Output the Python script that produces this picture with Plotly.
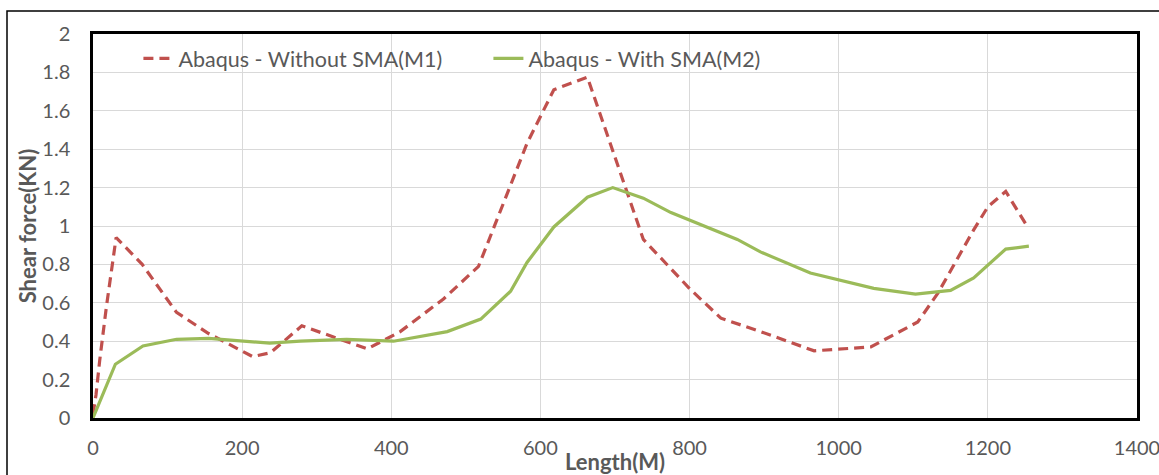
import plotly.graph_objects as go

# Data
m1_length = [0, 4, 9, 18, 31, 66, 112, 155, 214, 238, 280, 325, 368, 412, 470, 517, 582, 618, 663, 738, 801, 842, 895, 967, 1043, 1106, 1133, 1181, 1200, 1224, 1254]
m1_shear = [0.02, 0.12, 0.30, 0.58, 0.94, 0.80, 0.55, 0.44, 0.32, 0.34, 0.48, 0.42, 0.36, 0.45, 0.62, 0.79, 1.43, 1.71, 1.775, 0.93, 0.67, 0.52, 0.45, 0.35, 0.37, 0.50, 0.65, 0.98, 1.10, 1.18, 0.99]

m2_length = [0, 30, 67, 112, 155, 237, 278, 340, 403, 475, 520, 560, 582, 618, 663, 697, 738, 775, 864, 895, 962, 1047, 1103, 1150, 1181, 1204, 1224, 1255]
m2_shear = [0.0, 0.28, 0.375, 0.41, 0.415, 0.39, 0.40, 0.41, 0.40, 0.45, 0.515, 0.66, 0.81, 0.995, 1.15, 1.20, 1.145, 1.07, 0.93, 0.865, 0.755, 0.675, 0.645, 0.665, 0.73, 0.81, 0.88, 0.895]

m1_name = "Abaqus - Without SMA(M1)"
m2_name = "Abaqus - With SMA(M2)"

FONT = "Lato"
GRAY = "#595959"

fig = go.Figure()
fig.add_trace(go.Scatter(x=m1_length, y=m1_shear, mode="lines", name=m1_name,
                         line=dict(color="#C0504D", width=3.2, dash="10px,6px")))
fig.add_trace(go.Scatter(x=m2_length, y=m2_shear, mode="lines", name=m2_name,
                         line=dict(color="#9BBB59", width=3.2)))

fig.update_layout(
    width=1159, height=475,
    margin=dict(l=93, r=22, t=34, b=57),
    paper_bgcolor="white", plot_bgcolor="white",
    font=dict(family=FONT, size=20, color=GRAY),
    showlegend=True,
    legend=dict(orientation="h", x=0.0435, y=0.99, xanchor="left", yanchor="top",
                bgcolor="rgba(0,0,0,0)", font=dict(family=FONT, size=21.5, color=GRAY),
                entrywidth=305, entrywidthmode="pixels"),
    xaxis=dict(range=[0, 1400], dtick=200, tick0=0, showgrid=True, gridcolor="#D9D9D9",
               gridwidth=1, zeroline=False, showline=True, linecolor="black", linewidth=2.5,
               mirror=True, ticks="", ticklabelstandoff=10, automargin=False,
               ticklabeloverflow="allow",
               tickfont=dict(family=FONT, size=20, color=GRAY),
               title=dict(text="<b>Length(M)</b>", font=dict(family=FONT, size=22, color=GRAY), standoff=0)),
    yaxis=dict(range=[0, 2], dtick=0.2, tick0=0, showgrid=True, gridcolor="#D9D9D9",
               gridwidth=1, zeroline=False, showline=True, linecolor="black", linewidth=2.5,
               mirror=True, ticks="", ticklabelstandoff=16, automargin=False,
               ticklabeloverflow="allow",
               tickfont=dict(family=FONT, size=20, color=GRAY),
               title=dict(text="<b>Shear force(KN)</b>", font=dict(family=FONT, size=22, color=GRAY), standoff=0)),
)

# outer chart frame
fig.add_shape(type="rect", xref="paper", yref="paper",
              x0=(7 - 93) / 1044, y0=(418 - 11) / 384, x1=1.05, y1=-0.3,
              line=dict(color="black", width=1.5), fillcolor="rgba(0,0,0,0)", layer="below")

fig.write_html("out.html")
